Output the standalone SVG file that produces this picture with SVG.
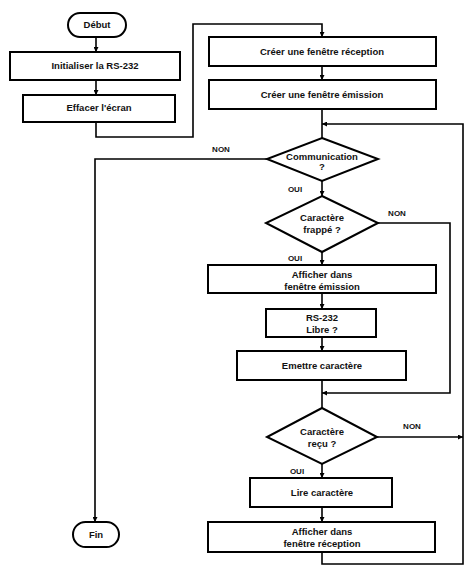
<svg xmlns="http://www.w3.org/2000/svg" width="476" height="581" viewBox="0 0 476 581">
<style>
.s{fill:#fff;stroke:#000;stroke-width:2}
.c{fill:none;stroke:#000;stroke-width:1.6}
text{font-family:"Liberation Sans",Arial,sans-serif;font-size:9.5px;font-weight:bold;fill:#111;text-anchor:middle}
.l{font-size:8px}
</style>
<defs>
<marker id="a" viewBox="0 0 10 10" refX="10" refY="5" markerWidth="5" markerHeight="5" orient="auto" markerUnits="userSpaceOnUse"><path d="M0,0L10,5L0,10z" fill="#000"/></marker>
</defs>
<rect width="476" height="581" fill="#fff"/>
<g id="connectors">
<path class="c" d="M96,37V52" marker-end="url(#a)"/>
<path class="c" d="M96,80V95" marker-end="url(#a)"/>
<path class="c" d="M96,122V137H193V24H322V37" marker-end="url(#a)"/>
<path class="c" d="M322,66V80" marker-end="url(#a)"/>
<path class="c" d="M322,109V138"/>
<path class="c" d="M267,159H95V522" marker-end="url(#a)"/>
<path class="c" d="M322,181V196" marker-end="url(#a)"/>
<path class="c" d="M322,252V265" marker-end="url(#a)"/>
<path class="c" d="M378,223H450V393H322" marker-end="url(#a)"/>
<path class="c" d="M322,293V309" marker-end="url(#a)"/>
<path class="c" d="M322,337V351" marker-end="url(#a)"/>
<path class="c" d="M322,380V408"/>
<path class="c" d="M377,437H463" marker-end="url(#a)"/>
<path class="c" d="M322,464V478" marker-end="url(#a)"/>
<path class="c" d="M322,507V522" marker-end="url(#a)"/>
<path class="c" d="M322,552V564H463V124H322" marker-end="url(#a)"/>
<text class="l" x="221" y="152">NON</text>
<text class="l" x="295" y="192">OUI</text>
<text class="l" x="397" y="216">NON</text>
<text class="l" x="295" y="261">OUI</text>
<text class="l" x="412" y="429">NON</text>
<text class="l" x="297" y="474">OUI</text>
</g>
<g id="debut"><rect class="s" x="68" y="13" width="58" height="24" rx="12"/><text x="97" y="28">Début</text></g>
<g id="init"><rect class="s" x="10" y="52" width="170" height="28"/><text x="95" y="69">Initialiser la RS-232</text></g>
<g id="effacer"><rect class="s" x="23" y="95" width="152" height="27"/><text x="99" y="111">Effacer l'écran</text></g>
<g id="creer-reception"><rect class="s" x="209" y="37" width="227" height="29"/><text x="322" y="55">Créer une fenêtre réception</text></g>
<g id="creer-emission"><rect class="s" x="209" y="80" width="227" height="29"/><text x="322" y="98">Créer une fenêtre émission</text></g>
<g id="communication"><path class="s" d="M322,138L378,159L322,181L267,159Z"/><text x="322" y="160">Communication</text><text x="322" y="170">?</text></g>
<g id="frappe"><path class="s" d="M322,196L378,223L322,252L266,223Z"/><text x="322" y="221">Caractère</text><text x="322" y="233">frappé ?</text></g>
<g id="afficher-emission"><rect class="s" x="208" y="265" width="228" height="28"/><text x="322" y="278">Afficher dans</text><text x="322" y="290">fenêtre émission</text></g>
<g id="libre"><rect class="s" x="266" y="309" width="110" height="28"/><text x="322" y="321">RS-232</text><text x="322" y="333">Libre ?</text></g>
<g id="emettre"><rect class="s" x="237" y="351" width="169" height="29"/><text x="322" y="369">Emettre caractère</text></g>
<g id="recu"><path class="s" d="M322,408L377,437L322,464L267,437Z"/><text x="322" y="435">Caractère</text><text x="322" y="447">reçu ?</text></g>
<g id="lire"><rect class="s" x="250" y="478" width="142" height="29"/><text x="322" y="496">Lire caractère</text></g>
<g id="afficher-reception"><rect class="s" x="208" y="522" width="227" height="30"/><text x="322" y="535">Afficher dans</text><text x="322" y="547">fenêtre réception</text></g>
<g id="fin"><rect class="s" x="73" y="522" width="46" height="25" rx="12.5"/><text x="96" y="538">Fin</text></g>
</svg>
